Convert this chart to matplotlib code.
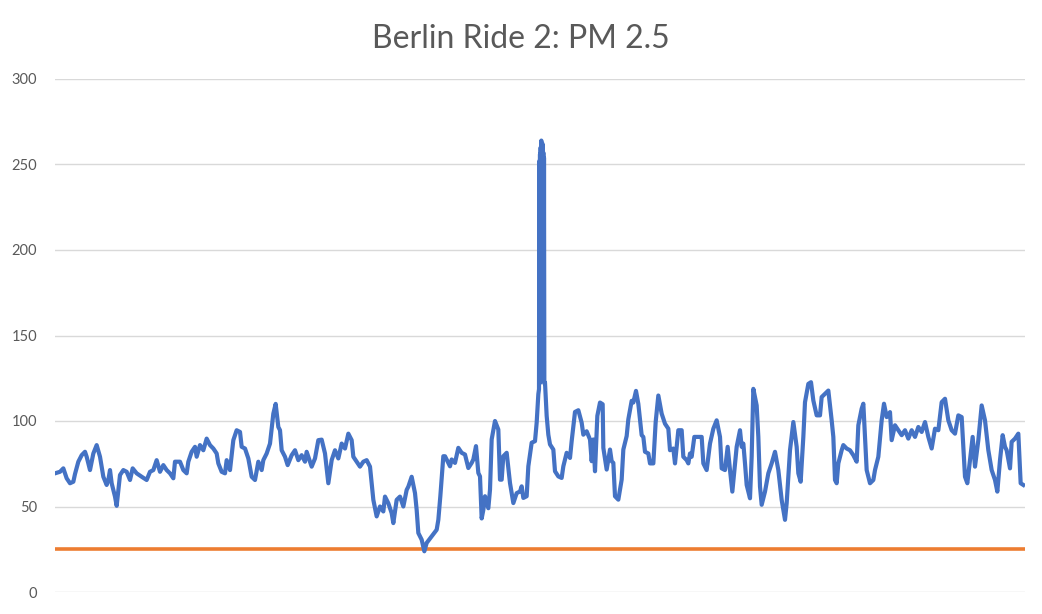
import matplotlib
matplotlib.use("Agg")
import matplotlib.pyplot as plt

# sample index (time) and PM 2.5 readings
t = [0, 15, 25, 35, 45, 55, 60, 70, 80, 90, 95, 105, 115, 125, 135, 145, 155, 160, 165, 170,
     180, 185, 190, 195, 205, 215, 225, 233, 245, 260, 275, 285, 295, 305, 315, 325, 335, 345,
     355, 360, 375, 385, 395, 400, 410, 420, 425, 435, 445, 455, 465, 475, 485, 490, 500, 510,
     515, 525, 535, 545, 555, 560,
     570, 580, 590, 600, 610, 620, 625, 635, 645, 655, 662, 670, 675, 680, 690, 698, 710, 720,
     730, 740, 750, 755, 770, 780, 790, 800, 810, 820, 830, 840, 850, 860, 870, 880, 890, 895,
     905, 915, 925, 935, 945, 955, 965, 975, 985, 990, 1000, 1010, 1015, 1025, 1035, 1045, 1055,
     1060, 1070, 1080, 1085, 1090, 1100, 1108, 1115, 1130, 1145, 1150, 1156, 1165,
     1170, 1185, 1190, 1200, 1210, 1220, 1230, 1240, 1250, 1255, 1263, 1270, 1275, 1280, 1285,
     1290, 1300, 1305, 1310, 1320, 1330, 1335, 1340, 1345, 1355, 1365, 1375, 1385, 1395, 1400,
     1405, 1415, 1420, 1430, 1440, 1445, 1450, 1452,
     1453, 1454, 1455, 1456, 1457, 1458, 1459, 1460, 1461, 1462, 1463, 1464, 1465, 1466, 1467,
     1468,
     1470, 1475, 1480, 1485, 1495, 1500, 1510, 1520, 1525, 1535, 1545, 1550, 1560, 1570, 1580,
     1585, 1595, 1605, 1610, 1615, 1620, 1627, 1635, 1643, 1645, 1655, 1665, 1670, 1675, 1680,
     1690, 1700, 1705, 1715, 1720, 1730, 1735, 1743,
     1750, 1760, 1765, 1770, 1780, 1785, 1795, 1802, 1810, 1820, 1830, 1840, 1845, 1855, 1860,
     1870, 1880, 1885, 1895, 1900, 1905, 1910, 1918, 1930, 1940, 1945, 1955, 1965, 1975, 1985,
     1995, 2000, 2010, 2018, 2025, 2032, 2040, 2045, 2055, 2060, 2065, 2070, 2075, 2085, 2090,
     2095, 2105, 2110, 2115, 2120, 2130, 2140, 2150, 2160, 2170, 2180, 2190, 2195, 2205, 2215,
     2225, 2230, 2237, 2245, 2250, 2260, 2268, 2275, 2285, 2295, 2300, 2310, 2320, 2330,
     2335, 2340, 2345, 2350, 2360, 2365, 2375, 2385, 2395, 2405, 2410, 2420, 2425, 2430, 2435,
     2445, 2455, 2460, 2470, 2480, 2487, 2495, 2505, 2510, 2520, 2530, 2540, 2550, 2560, 2570,
     2580, 2590, 2600, 2610, 2620, 2630, 2640, 2650, 2660, 2670, 2680, 2690, 2700, 2710, 2720,
     2725, 2730, 2737, 2745, 2753, 2760, 2770, 2780, 2790, 2800, 2810, 2820, 2827, 2835, 2843,
     2850, 2855, 2865, 2870, 2880, 2890, 2897, 2905]

pm25 = [69.4, 70.3, 72.3, 66.5, 63.6, 64.5, 69.0, 76.2, 80.0, 82.0, 79.1, 71.3, 81.0, 85.9, 79.1,
        67.4, 62.6, 65.5, 71.3, 63.6, 55.8, 50.4, 59.7, 68.4, 71.3, 70.3, 65.5, 72.3, 69.4, 67.4,
        65.5, 70.3, 71.3, 77.1, 70.3, 74.2, 71.3, 69.4, 66.5, 76.2, 76.2, 71.3, 69.4, 76.2, 82.0,
        84.9, 79.1, 85.9, 82.9, 89.7, 85.9, 83.9, 81.0, 75.2, 70.3, 69.4, 77.1, 71.3, 88.8, 94.6,
        93.6, 84.9,
        83.9, 78.1, 67.4, 65.5, 76.2, 71.3, 77.1, 81.0, 86.8, 104.3, 110.0, 96.5, 94.6, 82.9, 79.1,
        74.2, 80.0, 82.9, 77.1, 80.0, 76.2, 82.0, 73.3, 78.1, 88.8, 89.1, 81.0, 63.6, 77.1, 82.9,
        78.1, 86.8, 83.9, 92.6, 88.8, 79.1, 76.2, 73.3, 76.2, 77.1, 73.3, 53.9, 44.2, 50.0, 47.1,
        55.8, 51.9, 46.1, 40.3, 53.9, 55.8, 50.0, 59.7, 61.6, 67.4, 57.8, 48.0, 34.5, 30.6, 23.8,
        28.7, 32.6, 36.4, 42.2, 56.0, 79.4,
        79.4, 73.5, 77.5, 75.5, 84.3, 81.4, 80.4, 72.5, 75.5, 77.5, 85.3, 69.6, 67.6, 43.0, 48.0,
        56.0, 49.0, 59.8, 89.2, 100.0, 95.0, 65.7, 65.7, 79.4, 81.4, 63.7, 52.0, 57.8, 58.8, 61.8,
        55.0, 56.0, 73.5, 87.3, 88.2, 99.0, 115.7, 118.6,
        252.0, 122.0, 256.0, 125.0, 260.0, 123.0, 264.0, 126.0, 261.0, 124.0, 262.0, 125.0, 257.0,
        124.0, 254.0, 122.0,
        122.5, 103.0, 92.0, 86.3, 83.3, 70.6, 67.6, 66.7, 73.5, 81.4, 78.4, 88.2, 105.3,
        106.3, 99.0, 92.0, 94.0, 89.2, 76.5, 89.2, 70.6, 103.0, 110.8, 109.8, 84.3, 71.6, 83.3,
        76.5, 75.5, 56.0, 54.0, 65.7, 83.3, 91.2, 101.0, 111.8, 110.8, 117.6,
        110.0, 91.7, 90.7, 82.0, 81.0, 75.2, 75.2, 99.4, 114.9, 104.3, 98.4, 95.5, 82.9, 83.9, 75.2,
        94.6, 94.6, 79.1, 77.1, 75.2, 81.0, 79.1, 90.7, 90.7, 90.7, 75.2, 71.3, 86.8, 95.5, 100.4,
        90.7, 72.3, 71.3, 84.9, 71.3, 58.7, 75.2, 84.9, 94.6, 84.9, 86.8, 75.2, 62.6, 54.8, 79.1,
        118.8, 109.1, 90.7, 61.6, 51.0, 58.7, 69.4, 75.2, 82.0, 71.3, 53.9, 42.2, 51.9, 82.9, 99.4,
        84.9, 69.4, 64.5, 90.7, 111.0, 121.7, 122.7, 112.0, 103.3, 103.3, 114.0, 115.9, 117.8, 100.4,
        90.7, 65.5, 63.6, 75.2, 82.9, 85.9, 83.9, 82.9, 80.0, 76.2, 97.5, 107.2, 110.1, 90.7, 71.3,
        63.6, 65.5, 71.3, 79.1, 100.4, 110.1, 102.3, 105.2, 88.8, 97.5, 94.6, 91.7, 94.6, 89.7, 94.6,
        90.7, 96.5, 93.6, 99.4, 90.7, 83.9, 95.5, 94.6, 111.0, 113.0, 100.4, 94.6, 92.6, 103.3, 102.3,
        84.9, 67.4, 63.6, 77.1, 90.7, 73.3, 88.8, 109.1, 100.4, 82.9, 71.3, 65.5, 58.7, 77.1, 91.7,
        84.9, 82.9, 72.3, 87.8, 89.7, 92.6, 63.6, 62.6]

who_limit = 25
y_ticks = [0, 50, 100, 150, 200, 250, 300]
title = "Berlin Ride 2: PM 2.5"

plt.rcParams['font.family'] = ['Lato', 'DejaVu Sans']

fig = plt.figure(figsize=(10.42, 6.14), dpi=100)
ax = fig.add_axes([55 / 1042, 22 / 614, 970 / 1042, 513 / 614])

ax.plot(t, pm25, color='#4472C4', lw=3.0, solid_joinstyle='round', zorder=3)
ax.axhline(who_limit, color='#ED7D31', lw=2.6, zorder=2)

ax.set_xlim(0, 2910)
ax.set_ylim(0, 300)
ax.set_yticks(y_ticks)
ax.set_xticks([])
ax.yaxis.grid(True, color='#D9D9D9', lw=1.0)
ax.set_axisbelow(True)
for s in ax.spines.values():
    s.set_visible(False)
ax.tick_params(axis='y', length=0, pad=13, labelsize=10.5, labelcolor='#595959')

fig.text(0.5, 1 - 39 / 614, title, ha='center', va='center', fontsize=23, color='#595959')

fig.savefig('out.png', dpi=100)
